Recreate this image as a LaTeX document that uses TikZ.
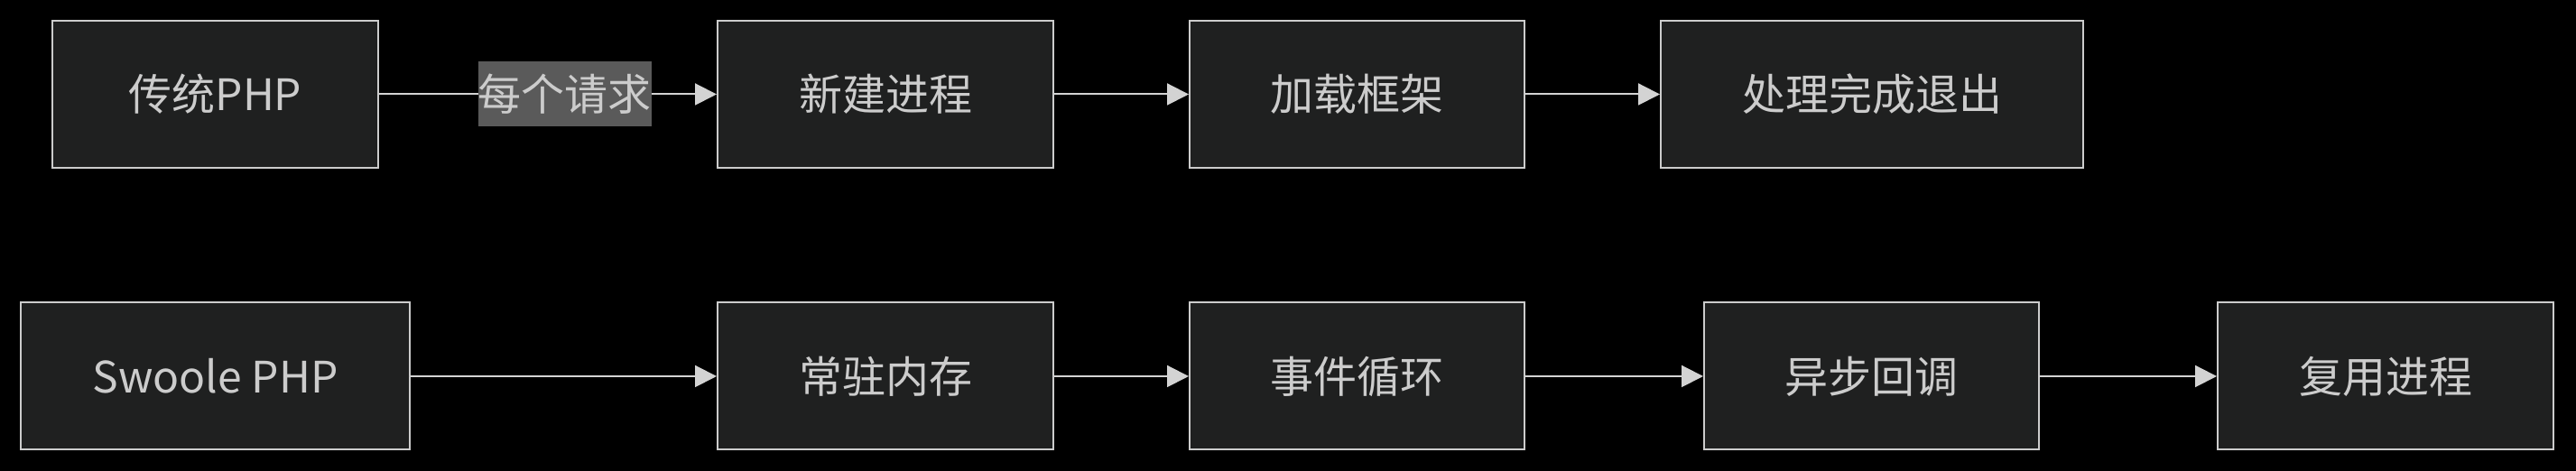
\documentclass[tikz,border=0pt]{standalone}
\usepackage{fontspec}
\setmainfont{Noto Sans CJK SC}
\usetikzlibrary{arrows.meta}

\definecolor{boxfill}{HTML}{1F2020}
\definecolor{boxline}{HTML}{CCCCCC}
\definecolor{txt}{HTML}{CCCCCC}
\definecolor{edge}{HTML}{D3D3D3}
\definecolor{lblbg}{HTML}{5A5A5A}

\begin{document}
\begin{tikzpicture}[x=1pt,y=1pt,
  box/.style={draw=boxline,fill=boxfill,line width=1pt,text=txt,inner sep=0pt,
    minimum height=81.5pt,font=\fontsize{24}{28}\selectfont},
  flow/.style={draw=edge,line width=1pt,-{Triangle[length=12pt,width=12pt]}},
  lbl/.style={fill=lblbg,text=txt,inner sep=0pt,minimum height=36pt,
    font=\fontsize{24}{28}\selectfont}]

\fill[black] (0,0) rectangle (1427,261);
\useasboundingbox (0,0) rectangle (1427,261);

\node[box,minimum width=180.5pt] (trad) at (119.25,208.75) {传统PHP};
\node[box,minimum width=186pt] (newp) at (490.5,208.75) {新建进程};
\node[box,minimum width=185.5pt] (load) at (751.75,208.75) {加载框架};
\node[box,minimum width=234pt] (done) at (1037,208.75) {处理完成退出};

\node[box,minimum width=215.5pt] (swoole) at (119.25,52.5) {Swoole PHP};
\node[box,minimum width=186pt] (mem) at (490.5,52.5) {常驻内存};
\node[box,minimum width=185.5pt] (loop) at (751.75,52.5) {事件循环};
\node[box,minimum width=185.5pt] (async) at (1036.75,52.5) {异步回调};
\node[box,minimum width=186pt] (reuse) at (1321.5,52.5) {复用进程};

\draw[flow] (trad) -- node[lbl,pos=0.55]{每个请求} (newp);
\draw[flow] (newp) -- (load);
\draw[flow] (load) -- (done);

\draw[flow] (swoole) -- (mem);
\draw[flow] (mem) -- (loop);
\draw[flow] (loop) -- (async);
\draw[flow] (async) -- (reuse);

\end{tikzpicture}
\end{document}
